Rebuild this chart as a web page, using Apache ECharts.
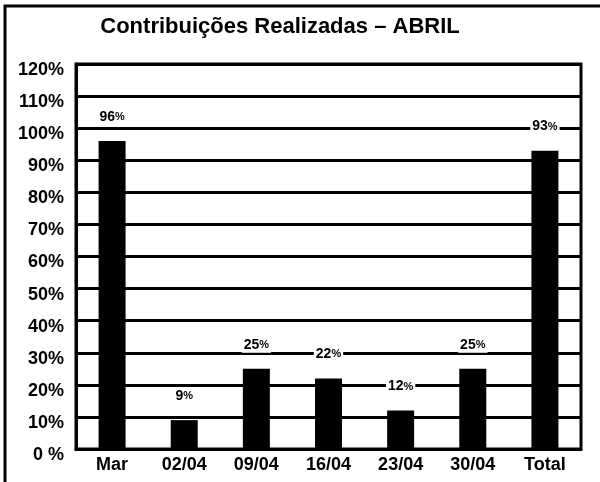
<!DOCTYPE html>
<html lang="pt">
<head>
    <meta charset="UTF-8">
    <title>Contribuições Realizadas – ABRIL</title>
    <style>
        body{margin:0;background:#fff;}
        #main{width:600px;height:482px;}
    </style>
    <script src="https://cdn.jsdelivr.net/npm/echarts@6/dist/echarts.min.js"></script>
</head>
<body>
<div id="main"></div>
<script type="text/javascript">
    // dados do gráfico
    var categorias = ['Mar', '02/04', '09/04', '16/04', '23/04', '30/04', 'Total'];
    var valores = [96, 9, 25, 22, 12, 25, 93];
    var rotulosY = ['0 %', '10%', '20%', '30%', '40%', '50%', '60%', '70%', '80%', '90%', '100%', '110%', '120%'];

    var myChart = echarts.init(document.getElementById('main'));
    var fonte = 'Liberation Sans, Arial, sans-serif';

    var option = {
        animation: false,
        backgroundColor: '#fff',
        title: {
            text: 'Contribuições Realizadas – ABRIL',
            left: 275,
            top: 11,
            textAlign: 'center',
            textStyle: {fontFamily: fonte, fontSize: 22, fontWeight: 'bold', color: '#000'}
        },
        graphic: [{
            type: 'rect',
            shape: {x: 5, y: 6, width: 700, height: 600},
            style: {fill: null, stroke: '#000', lineWidth: 3},
            silent: true
        }],
        grid: {
            left: 76, right: 19, top: 64, bottom: 33,
            show: true, borderColor: '#000', borderWidth: 3, backgroundColor: 'transparent'
        },
        xAxis: {
            type: 'category',
            data: categorias,
            axisLine: {lineStyle: {color: '#000', width: 3}},
            axisTick: {
                length: 9, lineStyle: {color: '#000', width: 3},
                interval: function (i) { return i > 0; }
            },
            axisLabel: {
                color: '#000', fontFamily: fonte, fontSize: 18, fontWeight: 'bold', margin: 7
            }
        },
        yAxis: {
            type: 'value',
            min: 0, max: 120, interval: 10,
            axisLine: {show: true, lineStyle: {color: '#000', width: 3}},
            axisTick: {show: false},
            splitLine: {lineStyle: {color: '#000', width: 3}},
            axisLabel: {
                margin: 12,
                formatter: function (v) { return '{a|' + rotulosY[Math.round(v / 10)] + '}'; },
                rich: {
                    a: {
                        color: '#000', fontFamily: fonte, fontSize: 18, fontWeight: 'bold',
                        padding: [12, 0, 0, 0]
                    }
                }
            }
        },
        series: [{
            type: 'bar',
            data: valores,
            barWidth: 27,
            itemStyle: {color: '#000'},
            label: {
                show: true,
                position: 'top',
                distance: 16,
                backgroundColor: '#fff',
                padding: [1, 2],
                formatter: '{n|{c}}{p|%}',
                rich: {
                    n: {fontFamily: fonte, fontSize: 14, fontWeight: 'bold', color: '#000'},
                    p: {fontFamily: fonte, fontSize: 11, fontWeight: 'bold', color: '#000'}
                }
            }
        }]
    };
    myChart.setOption(option);
</script>
</body>
</html>
